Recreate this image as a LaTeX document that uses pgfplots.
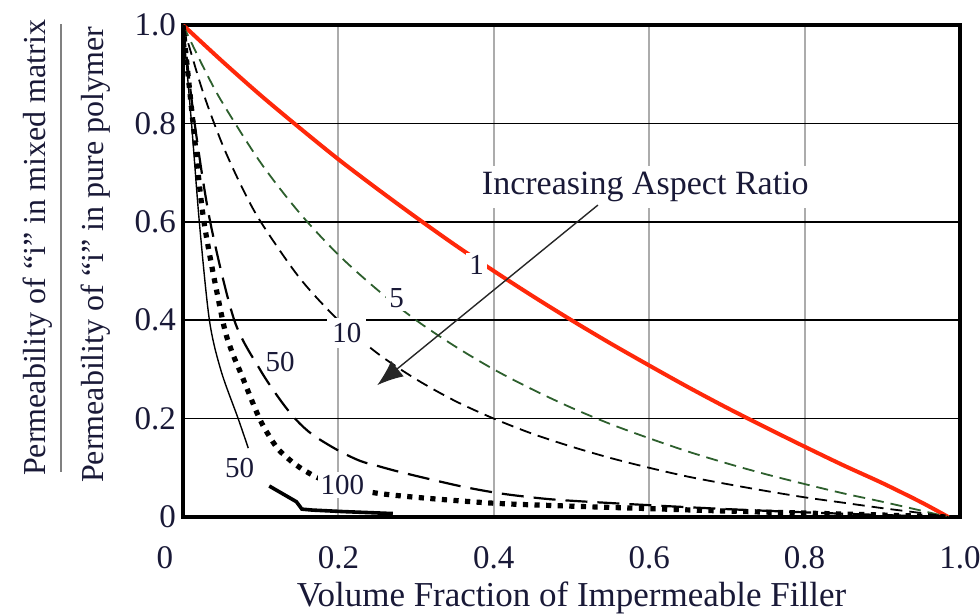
\documentclass[border=0pt]{standalone}
\usepackage{fontspec}
\setmainfont{Liberation Serif}
\usepackage{pgfplots}
\pgfplotsset{compat=1.18}
\usetikzlibrary{arrows.meta}

\definecolor{txt}{RGB}{25,25,55}
\definecolor{redline}{RGB}{255,40,10}
\definecolor{dgreen}{RGB}{45,95,45}

\begin{document}
\begin{tikzpicture}
\begin{axis}[
    scale only axis,
    width=388.5pt, height=246pt,
    xmin=0, xmax=1, ymin=0, ymax=1,
    no markers,
    axis line style={line width=1.8pt},
    xtick={0.2,0.4,0.6,0.8,1.0},
    xticklabels={0.2,0.4,0.6,0.8,1.0},
    extra x ticks={0},
    extra x tick labels={0},
    extra x tick style={grid=none, xticklabel style={xshift=-9pt}},
    ytick={0,0.2,0.4,0.6,0.8,1.0},
    yticklabels={0,0.2,0.4,0.6,0.8,1.0},
    major tick length=0pt,
    xmajorgrids, ymajorgrids,
    x grid style={gray!65, line width=0.9pt},
    y grid style={black, line width=0.8pt},
    tick label style={font=\fontsize{16.5}{19}\selectfont, text=txt},
    xticklabel style={yshift=-11pt},
    xlabel={Volume Fraction of Impermeable Filler},
    xlabel style={font=\fontsize{17.5}{20}\selectfont, text=txt,
        at={(axis description cs:0.5,0)}, anchor=center, yshift=-40.5pt},
]

% aspect ratio 1
\addplot[redline, line width=2pt, smooth] coordinates {
    (0,1) (0.05,0.927) (0.1,0.857) (0.15,0.791) (0.2,0.727) (0.25,0.667)
    (0.3,0.609) (0.35,0.553) (0.4,0.5) (0.45,0.449) (0.5,0.4) (0.55,0.353)
    (0.6,0.308) (0.65,0.264) (0.7,0.222) (0.75,0.182) (0.8,0.143)
    (0.85,0.105) (0.9,0.069) (0.95,0.03) (0.985,0)
};

% aspect ratio 5
\addplot[dgreen, line width=0.9pt, dash pattern=on 6pt off 3.5pt, smooth] coordinates {
    (0,1) (0.025,0.918) (0.05,0.844) (0.1,0.72) (0.15,0.618) (0.2,0.533)
    (0.25,0.462) (0.3,0.4) (0.35,0.347) (0.4,0.3) (0.45,0.259) (0.5,0.222)
    (0.55,0.189) (0.6,0.16) (0.65,0.133) (0.7,0.109) (0.75,0.087)
    (0.8,0.067) (0.85,0.048) (0.9,0.031) (0.95,0.013) (0.985,0)
};

% aspect ratio 10
\addplot[black, line width=0.9pt, dash pattern=on 6pt off 3.5pt, smooth] coordinates {
    (0,1) (0.025,0.867) (0.05,0.76) (0.075,0.673) (0.1,0.6) (0.15,0.486)
    (0.2,0.4) (0.25,0.333) (0.3,0.28) (0.35,0.236) (0.4,0.2) (0.45,0.169)
    (0.5,0.143) (0.55,0.12) (0.6,0.1) (0.65,0.082) (0.7,0.067) (0.75,0.053)
    (0.8,0.04) (0.85,0.029) (0.9,0.018) (0.95,0.008) (0.985,0)
};

% aspect ratio 50 (long dash)
\addplot[black, line width=1.1pt, dash pattern=on 11pt off 5pt, smooth] coordinates {
    (0,1) (0.015,0.8) (0.035,0.6) (0.066,0.4) (0.099,0.3) (0.126,0.236)
    (0.146,0.197) (0.167,0.167) (0.2,0.135) (0.228,0.114) (0.25,0.104)
    (0.283,0.09) (0.356,0.063) (0.408,0.048) (0.46,0.038) (0.5,0.033)
    (0.6,0.024) (0.7,0.016) (0.8,0.0095) (0.9,0.004) (0.985,0)
};

% aspect ratio 100 (dotted)
\addplot[black, line width=2.6pt, dash pattern=on 2.6pt off 3.2pt, smooth] coordinates {
    (0,1) (0.013,0.8) (0.027,0.6) (0.051,0.4) (0.062,0.34) (0.075,0.29)
    (0.097,0.205) (0.11,0.167) (0.123,0.137) (0.142,0.11) (0.158,0.093)
    (0.175,0.079) (0.2,0.066) (0.243,0.05) (0.3,0.04) (0.4,0.028)
    (0.5,0.022) (0.6,0.017) (0.7,0.012) (0.8,0.008) (0.9,0.004) (0.985,0)
};

% aspect ratio 50 (solid)
\addplot[black, line width=0.7pt, smooth] coordinates {
    (0,1) (0.011,0.8) (0.021,0.6) (0.034,0.4) (0.049,0.297) (0.071,0.2)
    (0.084,0.14)
};
\addplot[black, line width=1.8pt] coordinates {
    (0.111,0.063) (0.146,0.031) (0.153,0.016) (0.167,0.014) (0.206,0.011)
    (0.27,0.007)
};

% curve labels
\node[fill=white, inner sep=1.5pt, text=txt, font=\fontsize{14.5}{17}\selectfont] at (axis cs:0.378,0.512) {1};
\node[fill=white, inner sep=1.5pt, text=txt, font=\fontsize{14.5}{17}\selectfont] at (axis cs:0.275,0.445) {5};
\node[fill=white, inner sep=2.5pt, text=txt, font=\fontsize{14.5}{17}\selectfont] at (axis cs:0.211,0.374) {10};
\node[text=txt, font=\fontsize{14.5}{17}\selectfont] at (axis cs:0.125,0.315) {50};
\node[text=txt, font=\fontsize{14.5}{17}\selectfont] at (axis cs:0.073,0.1) {50};
\node[fill=white, inner sep=1.5pt, text=txt, font=\fontsize{14.5}{17}\selectfont] at (axis cs:0.205,0.065) {100};

% annotation
\node[fill=white, inner sep=3pt, text=txt, font=\fontsize{17}{20}\selectfont] at (axis cs:0.595,0.671) {Increasing Aspect Ratio};
\draw[-{Latex[length=13pt,width=10pt]}, line width=0.7pt, black!85] (axis cs:0.534,0.634) -- (axis cs:0.25,0.268);

\end{axis}

% y label as a fraction
\node[rotate=90, inner sep=0pt] at (-61pt,134.5pt) {\textcolor{black!50}{\rule{224pt}{1.4pt}}};
\node[rotate=90, text=txt, font=\fontsize{16}{19}\selectfont] at (-72.5pt,134.5pt) {Permeability of “i” in mixed matrix};
\node[rotate=90, text=txt, font=\fontsize{16}{19}\selectfont] at (-43.5pt,131pt) {Permeability of “i” in pure polymer};

\pgfresetboundingbox
\path[use as bounding box] (-91.5pt,-48.5pt) rectangle (398.5pt,258.5pt);

\end{tikzpicture}
\end{document}
